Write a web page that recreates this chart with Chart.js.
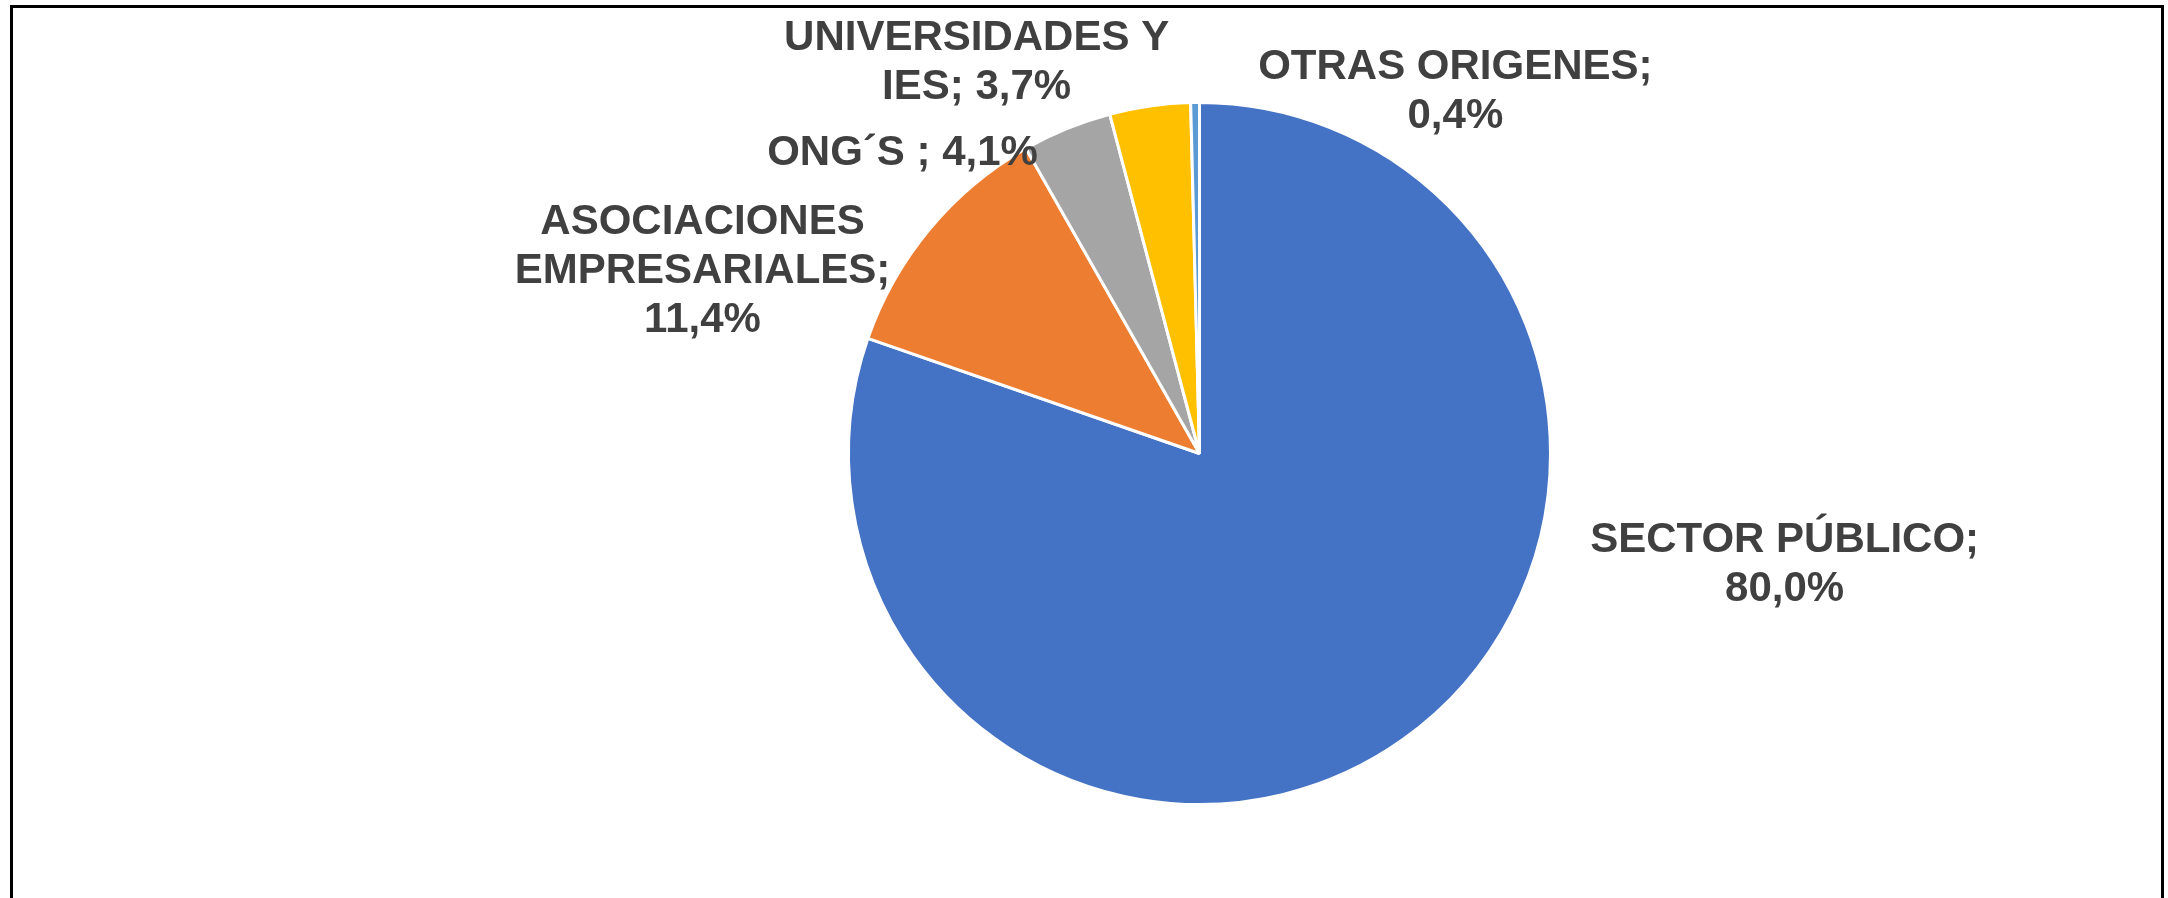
<!DOCTYPE html>
<html>
<head>
<meta charset="utf-8">
<script src="https://cdn.jsdelivr.net/npm/chart.js@4.4.1/dist/chart.umd.min.js"></script>
<style>
    body { margin: 0; background: #ffffff; }
    #frame {
        position: absolute;
        left: 10px;
        top: 5px;
        width: 2148px;
        height: 1000px;
        border: 3px solid #000000;
    }
    #piechart { position: absolute; left: 0; top: 0; }
</style>
</head>
<body>
<div id="frame"></div>
<canvas id="piechart" width="2168" height="898"></canvas>
<script>
// data
var categories = ["SECTOR PÚBLICO", "ASOCIACIONES EMPRESARIALES", "ONG´S ", "UNIVERSIDADES Y IES", "OTRAS ORIGENES"];
var shares = [80.0, 11.4, 4.1, 3.7, 0.4];
var sliceColors = ["#4472C4", "#ED7D31", "#A5A5A5", "#FFC000", "#5B9BD5"];

// label placement, relative to pie centre in units of radius
var labelDx = [1.667, -1.416, -0.846, -0.635, 0.729];
var labelDy = [0.318, -0.519, -0.855, -1.114, -1.030];
var labelWrap = [430, 400, 600, 430, 430];

function wrapText(ctx, text, maxW) {
    var words = text.split(" ");
    var lines = [];
    var cur = "";
    words.forEach(function (w) {
        var test = cur ? cur + " " + w : w;
        if (cur && ctx.measureText(test).width > maxW) {
            lines.push(cur);
            cur = w;
        } else {
            cur = test;
        }
    });
    if (cur) lines.push(cur);
    return lines;
}

var outsideLabels = {
    id: "outsideLabels",
    afterDraw: function (chart) {
        var ctx = chart.ctx;
        var arcs = chart.getDatasetMeta(0).data;
        var cx = arcs[0].x, cy = arcs[0].y, r = arcs[0].outerRadius;
        ctx.save();
        ctx.font = "bold 42px 'Liberation Sans', Arial, sans-serif";
        ctx.fillStyle = "#404040";
        ctx.textAlign = "center";
        ctx.textBaseline = "middle";
        var lh = 49;
        categories.forEach(function (cat, i) {
            var txt = cat + "; " + shares[i].toFixed(1).replace(".", ",") + "%";
            var lines = wrapText(ctx, txt, labelWrap[i]);
            var x = cx + labelDx[i] * r;
            var y0 = cy + labelDy[i] * r - (lines.length - 1) * lh / 2;
            lines.forEach(function (ln, k) {
                ctx.fillText(ln, x, y0 + k * lh);
            });
        });
        ctx.restore();
    }
};

var canvasElement = document.getElementById("piechart");
var config = {
    type: "pie",
    data: {
        labels: categories,
        datasets: [{
            data: shares,
            backgroundColor: sliceColors,
            borderColor: "#ffffff",
            borderWidth: 3
        }]
    },
    options: {
        responsive: false,
        animation: false,
        layout: {
            padding: { left: 847, right: 616, top: 101, bottom: 92 }
        },
        plugins: {
            legend: { display: false },
            tooltip: { enabled: false }
        }
    },
    plugins: [outsideLabels]
};
var piechart = new Chart(canvasElement, config);
</script>
</body>
</html>
